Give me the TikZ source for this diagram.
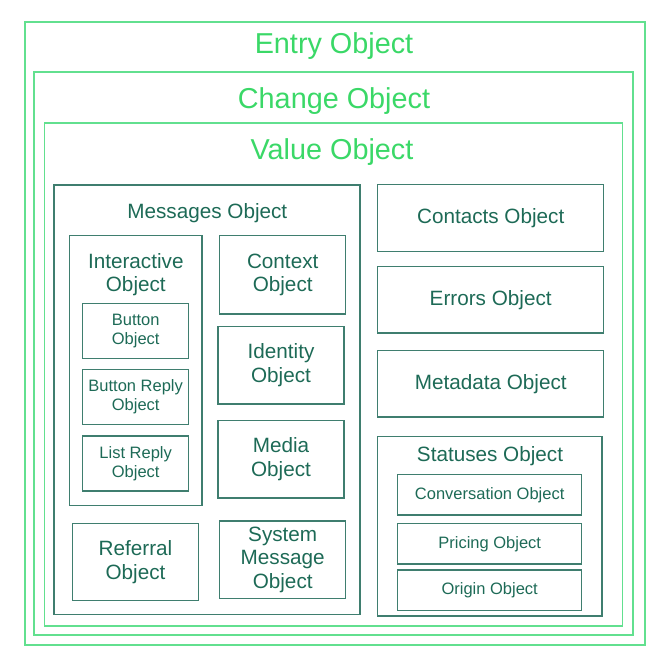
\documentclass[tikz,border=0pt]{standalone}
\usepackage{fontspec}
\setmainfont{Liberation Sans}
\definecolor{gline}{HTML}{62E08F}
\definecolor{gtext}{HTML}{3AD867}
\definecolor{tline}{HTML}{3F7E6F}
\definecolor{ttext}{HTML}{1D6A56}
\tikzset{
  outerbox/.style={draw=gline, line width=1.3pt, inner sep=0pt, rectangle},
  innerbox/.style={draw=tline, line width=1.2pt, inner sep=0pt, rectangle, text=ttext, align=center},
  bigtitle/.style={text=gtext, anchor=base, inner sep=0pt, font=\fontsize{28.8}{32}\selectfont},
  midtitle/.style={text=ttext, anchor=base, inner sep=0pt, align=center, font=\fontsize{20.7}{23.4}\selectfont},
  midbox/.style={innerbox, font=\fontsize{20.7}{23.5}\selectfont},
  smallbox/.style={innerbox, font=\fontsize{16.5}{19}\selectfont},
}
\begin{document}
\begin{tikzpicture}[x=1pt,y=-1pt]
\useasboundingbox (0,0) rectangle (650,656);
% outer green frames
\node[outerbox, minimum width=620pt, minimum height=623pt] (entry) at (335,333.5) {};
\node[outerbox, minimum width=599pt, minimum height=563pt] (change) at (333.5,353.5) {};
\node[outerbox, minimum width=578pt, minimum height=503pt] (value) at (333.5,374.5) {};
\node[bigtitle] (entryt) at (334,53.3) {Entry Object};
\node[bigtitle] (changet) at (334,108.3) {Change Object};
\node[bigtitle] (valuet) at (332,159.3) {Value Object};
% messages
\node[innerbox, minimum width=306pt, minimum height=429.3pt] (messages) at (207,399.7) {};
\node[midtitle] (messagest) at (207.3,218) {Messages Object};
\node[innerbox, minimum width=132.7pt, minimum height=270pt] (interactive) at (135.7,370.7) {};
\node[midtitle] (interactivet) at (135.8,291.4) {Interactive\\Object};
\node[smallbox, minimum width=106pt, minimum height=55pt] (button) at (135.7,330.8) {Button\\Object};
\node[smallbox, minimum width=106pt, minimum height=55.4pt] (buttonreply) at (135.7,397) {Button Reply\\Object};
\node[smallbox, minimum width=106pt, minimum height=55pt] (listreply) at (135.7,463.5) {List Reply\\Object};
\node[midbox, minimum width=126pt, minimum height=78.3pt] (context) at (282.7,274.8) {Context\\Object};
\node[midbox, minimum width=126pt, minimum height=77.3pt] (identity) at (281,365.3) {Identity\\Object};
\node[midbox, minimum width=126pt, minimum height=77.3pt] (media) at (281,459.3) {Media\\Object};
\node[midbox, minimum width=126.4pt, minimum height=77.4pt] (referral) at (135.5,562) {Referral\\Object};
\node[midbox, minimum width=126pt, minimum height=77.7pt] (system) at (282.7,559.8) {System\\Message\\Object};
% right column
\node[midbox, minimum width=226pt, minimum height=67pt] (contacts) at (490.7,218.2) {Contacts Object};
\node[midbox, minimum width=226pt, minimum height=66.3pt] (errors) at (490.7,299.8) {Errors Object};
\node[midbox, minimum width=226pt, minimum height=66.7pt] (metadata) at (490.7,383.7) {Metadata Object};
\node[innerbox, minimum width=224.3pt, minimum height=179.3pt] (statuses) at (489.8,526.3) {};
\node[midtitle] (statusest) at (490,461.7) {Statuses Object};
\node[smallbox, minimum width=184pt, minimum height=40.3pt] (conversation) at (489.7,494.8) {Conversation Object};
\node[smallbox, minimum width=184pt, minimum height=40.3pt] (pricing) at (489.7,543.8) {Pricing Object};
\node[smallbox, minimum width=184pt, minimum height=40.7pt] (origin) at (489.7,590.3) {Origin Object};
\end{tikzpicture}
\end{document}
